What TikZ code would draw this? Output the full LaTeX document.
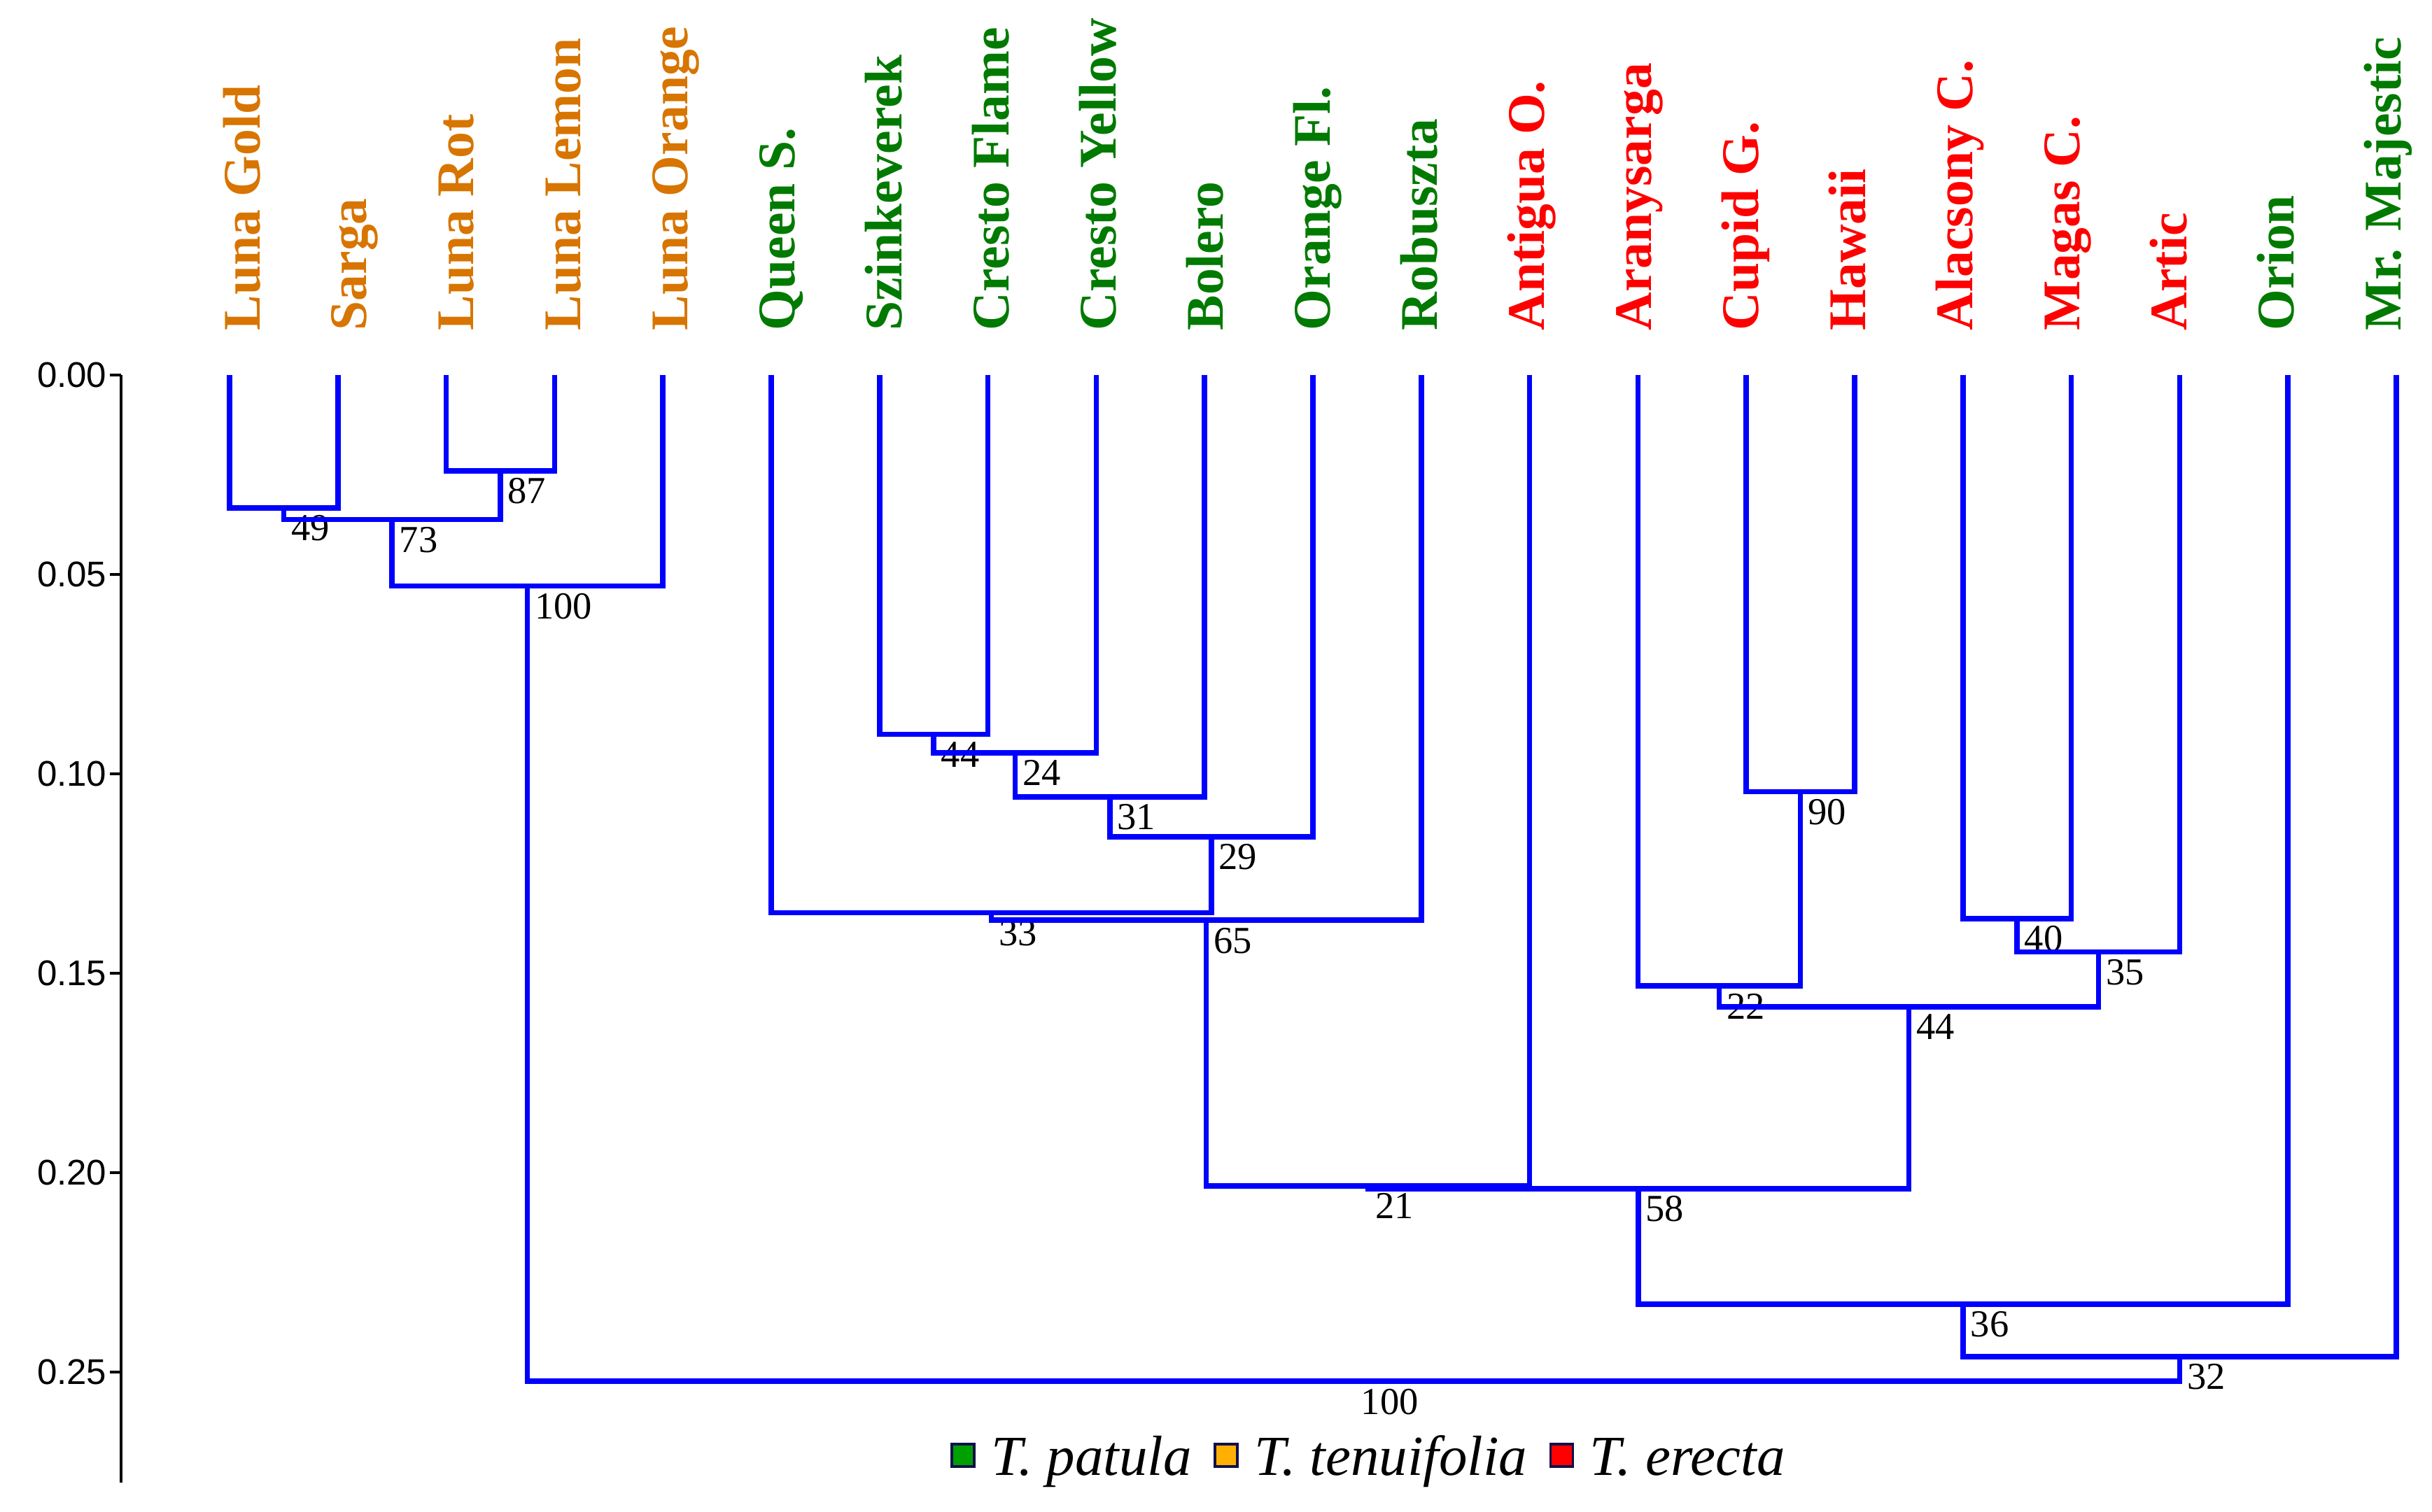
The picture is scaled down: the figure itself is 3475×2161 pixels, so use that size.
\documentclass[tikz,border=0pt]{standalone}
\usepackage{fontspec}
\setmainfont{Liberation Serif}
\newfontfamily\axisfont{Liberation Sans}
\usepackage{xcolor}
\definecolor{tenuiOrange}{HTML}{D77500}
\definecolor{patulaGreen}{HTML}{007A00}
\definecolor{erectaRed}{HTML}{FF0000}
\definecolor{lineBlue}{HTML}{0000FF}
\definecolor{boxGreen}{HTML}{00A000}
\definecolor{boxOrange}{HTML}{FFB000}
\definecolor{boxRed}{HTML}{FF0000}
\definecolor{boxEdge}{HTML}{10104A}
\usepackage{tikz}
\usetikzlibrary{
  positioning,
  calc
}
\tikzstyle{branch}=[lineBlue, line width=0.075cm]
\tikzstyle{axisline}=[black, line width=0.04cm]

\begin{document}
\begin{tikzpicture}[x=0.01cm, y=-0.01cm,
    leaf/.style={rotate=90, anchor=base west, inner sep=0pt,
      font=\bfseries\fontsize{21.5}{26}\selectfont},
    boot/.style={anchor=north west, inner sep=0.1cm,
      font=\fontsize{15.5}{18}\selectfont},
    ticklabel/.style={anchor=east, inner sep=0pt,
      font=\axisfont\fontsize{14.5}{17}\selectfont},
    legbox/.style={draw=boxEdge, line width=0.035cm, minimum size=0.32cm, inner sep=0pt},
    legtext/.style={inner sep=0pt, text height=0.6cm, text depth=0.04cm,
      font=\itshape\fontsize{23}{28}\selectfont}]
      \useasboundingbox (0,0) rectangle (3475,2161);
      \def\hgt#1{536+5700*#1}
      \def\xstep{154.8}
      \def\tstep{152.95}

      % merge two clusters at a given distance
      \def\merge#1#2#3#4#5{%
        \coordinate (m#1) at ($(#2)!.5!(#3)$);
        \coordinate (h#1) at (0,{\hgt{#4}});
        \coordinate (#1) at (m#1 |- h#1);
        \draw[branch] (#2) |- (#1) -| (#3);
        \node[boot] at (#1) {#5};
      }

      % distance axis
      \coordinate (axtop) at (173,{\hgt{0}});
      \coordinate (axbot) at (173,2119);
      \draw[axisline] (axtop) -- (axbot);
      \foreach \v in {0.00,0.05,0.10,0.15,0.20,0.25} {
        \draw[axisline] (157,{\hgt{\v}}) -- (173,{\hgt{\v}});
        \node[ticklabel] at (153,{\hgt{\v}}) {\v};
      }

      % cultivars
      \foreach \name/\col [count=\i from 0] in {Luna Gold/tenuiOrange, Sarga/tenuiOrange,
          Luna Rot/tenuiOrange, Luna Lemon/tenuiOrange, Luna Orange/tenuiOrange,
          Queen S./patulaGreen, Szinkeverek/patulaGreen, Cresto Flame/patulaGreen,
          Cresto Yellow/patulaGreen, Bolero/patulaGreen, Orange Fl./patulaGreen,
          Robuszta/patulaGreen, Antigua O./erectaRed, Aranysarga/erectaRed,
          Cupid G./erectaRed, Hawaii/erectaRed, Alacsony C./erectaRed,
          Magas C./erectaRed, Artic/erectaRed, Orion/patulaGreen,
          Mr. Majestic/patulaGreen} {
        \coordinate (L\i) at ({328+\xstep*\i},{\hgt{0}});
        \node[leaf, text=\col] (T\i) at ({371+\tstep*\i},473) {\name};
      }

      % T. tenuifolia group
      \merge{n49}{L0}{L1}{0.0333}{49}
      \merge{n87}{L2}{L3}{0.0240}{87}
      \merge{n73}{n49}{n87}{0.0362}{73}
      \merge{n100a}{n73}{L4}{0.0529}{100}

      % T. patula group
      \merge{n44a}{L6}{L7}{0.0901}{44}
      \merge{n24}{n44a}{L8}{0.0947}{24}
      \merge{n31}{n24}{L9}{0.1058}{31}
      \merge{n29}{n31}{L10}{0.1158}{29}
      \merge{n33}{L5}{n29}{0.1348}{33}
      \merge{n65}{n33}{L11}{0.1367}{65}
      \merge{n21}{n65}{L12}{0.2033}{21}

      % T. erecta group
      \merge{n90}{L14}{L15}{0.1045}{90}
      \merge{n22}{L13}{n90}{0.1532}{22}
      \merge{n40}{L16}{L17}{0.1363}{40}
      \merge{n35}{n40}{L18}{0.1446}{35}
      \merge{n44b}{n22}{n35}{0.1584}{44}

      % upper joins
      \merge{n58}{n21}{n44b}{0.2040}{58}
      \merge{n36}{n58}{L19}{0.2330}{36}
      \merge{n32}{n36}{L20}{0.2461}{32}
      \merge{n100b}{n100a}{n32}{0.2523}{100}

      % legend
      \node[legbox, fill=boxGreen] (boxP) at (1376,2080) {};
      \node[legtext, right=0.22cm of boxP] (txtP) {T. patula};
      \node[legbox, fill=boxOrange, right=0.31cm of txtP] (boxT) {};
      \node[legtext, right=0.22cm of boxT] (txtT) {T. tenuifolia};
      \node[legbox, fill=boxRed, right=0.31cm of txtT] (boxE) {};
      \node[legtext, right=0.22cm of boxE] (txtE) {T. erecta};
\end{tikzpicture}
\end{document}
